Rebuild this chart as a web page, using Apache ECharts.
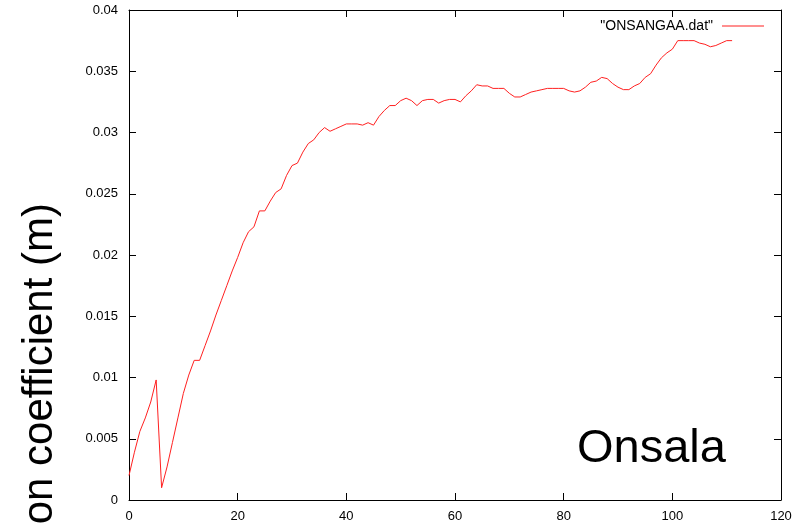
<!DOCTYPE html>
<html>
<head>
<meta charset="utf-8">
<script src="https://cdn.jsdelivr.net/npm/echarts@6/dist/echarts.min.js"></script>
<style>
  html, body { margin: 0; padding: 0; background: #fff; }
  #chart { width: 809px; height: 523px; }
</style>
</head>
<body>
<div id="chart"></div>
<script>
// Sample index (epoch number) along the x axis
const epochs = [];
for (let i = 0; i <= 111; i++) epochs.push(i);

// Coefficient estimate per epoch, metres
const coefficient = [
  0.0020, 0.0039, 0.0056, 0.0067, 0.0080, 0.0098, 0.0010, 0.0027, 0.0047, 0.0067,
  0.0087, 0.0102, 0.0114, 0.0114, 0.0126, 0.0138, 0.0151, 0.0163, 0.0175, 0.0187,
  0.0198, 0.0210, 0.0219, 0.0223, 0.0236, 0.0236, 0.0244, 0.0251, 0.0254, 0.0265,
  0.0273, 0.0275, 0.0284, 0.0291, 0.0294, 0.0300, 0.0304, 0.0301, 0.0303, 0.0305,
  0.0307, 0.0307, 0.0307, 0.0306, 0.0308, 0.0306, 0.0313, 0.0318, 0.0322, 0.0322,
  0.0326, 0.0328, 0.0326, 0.0322, 0.0326, 0.0327, 0.0327, 0.0324, 0.0326, 0.0327,
  0.0327, 0.0325, 0.0330, 0.0334, 0.0339, 0.0338, 0.0338, 0.0336, 0.0336, 0.0336,
  0.0332, 0.0329, 0.0329, 0.0331, 0.0333, 0.0334, 0.0335, 0.0336, 0.0336, 0.0336,
  0.0336, 0.0334, 0.0333, 0.0334, 0.0337, 0.0341, 0.0342, 0.0345, 0.0344, 0.0340,
  0.0337, 0.0335, 0.0335, 0.0338, 0.0340, 0.0345, 0.0348, 0.0355, 0.0361, 0.0365,
  0.0368, 0.0375, 0.0375, 0.0375, 0.0375, 0.0373, 0.0372, 0.0370, 0.0371, 0.0373,
  0.0375, 0.0375
];

const seriesName = '"ONSANGAA.dat"';
const stationName = 'Onsala';
const yTitle = 'Regression coefficient (m)';

const xTicks = { min: 0, max: 120, interval: 20 };
const yTicks = { min: 0, max: 0.04, interval: 0.005 };

const FONT = "'Liberation Sans', Arial, Helvetica, sans-serif";
const frame = { lineStyle: { color: '#000', width: 1 } };

function axisBase(t, showLabel, extra) {
  return Object.assign({
    type: 'value',
    min: t.min, max: t.max, interval: t.interval,
    axisLine: Object.assign({ show: true, onZero: false }, frame),
    axisTick: { show: true, inside: true, length: 7, lineStyle: { color: '#000', width: 1 } },
    splitLine: { show: false },
    axisLabel: { show: showLabel, color: '#000', fontFamily: FONT, fontSize: 14 }
  }, extra || {});
}

const chart = echarts.init(document.getElementById('chart'), null, { renderer: 'canvas' });

chart.setOption({
  animation: false,
  backgroundColor: '#fff',
  grid: { left: 129, right: 28, top: 10, bottom: 23, containLabel: false },
  xAxis: [
    axisBase(xTicks, true, { position: 'bottom', axisLabel: { show: true, color: '#000', fontFamily: FONT, fontSize: 13, margin: 10 } }),
    axisBase(xTicks, false, { position: 'top' })
  ],
  yAxis: [
    axisBase(yTicks, true, { position: 'left', axisLabel: { show: true, color: '#000', fontFamily: FONT, fontSize: 13, margin: 11 } }),
    axisBase(yTicks, false, { position: 'right' })
  ],
  legend: {
    right: 40, top: 14,
    align: 'right',
    icon: 'rect',
    itemWidth: 42, itemHeight: 1,
    textStyle: { color: '#000', fontFamily: FONT, fontSize: 14, padding: [0, 4, 0, 0] },
    data: [seriesName]
  },
  series: [{
    name: seriesName,
    type: 'line',
    xAxisIndex: 0, yAxisIndex: 0,
    showSymbol: false,
    symbol: 'none',
    lineStyle: { color: '#ff2020', width: 1 },
    itemStyle: { color: '#ff2020' },
    data: epochs.map((x, i) => [x, coefficient[i]])
  }],
  graphic: [
    {
      type: 'text',
      left: 577, top: 426,
      style: { text: stationName, fill: '#000', font: '47px ' + FONT }
    },
    {
      type: 'text',
      x: 40, y: 203,
      rotation: Math.PI / 2,
      style: { text: yTitle, fill: '#000', font: '42px ' + FONT, align: 'right', verticalAlign: 'middle' }
    }
  ]
});
</script>
</body>
</html>
